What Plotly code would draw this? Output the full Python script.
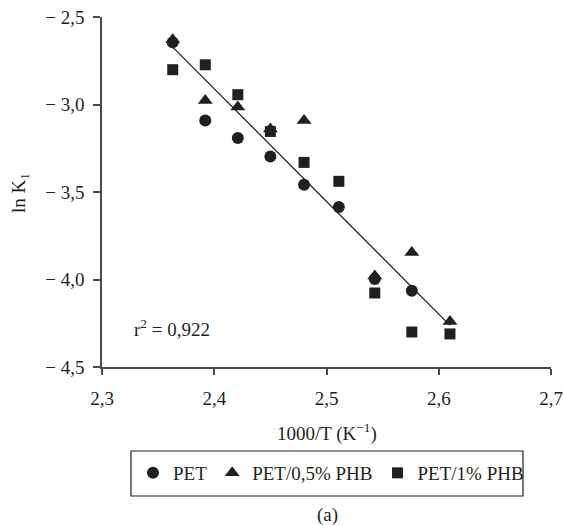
import plotly.graph_objects as go

# Data
pet_x = [2.363, 2.392, 2.421, 2.450, 2.480, 2.511, 2.543, 2.576]
pet_y = [-2.645, -3.091, -3.191, -3.297, -3.458, -3.586, -3.997, -4.064]

phb05_x = [2.363, 2.392, 2.421, 2.450, 2.480, 2.543, 2.576, 2.610]
phb05_y = [-2.63, -2.977, -3.014, -3.14, -3.091, -3.98, -3.846, -4.24]

phb1_x = [2.363, 2.392, 2.421, 2.450, 2.480, 2.511, 2.543, 2.576, 2.610]
phb1_y = [-2.801, -2.773, -2.944, -3.154, -3.331, -3.439, -4.077, -4.300, -4.311]

fit_x = [2.363, 2.610]
fit_y = [-2.672, -4.262]

x_ticks = [2.3, 2.4, 2.5, 2.6, 2.7]
x_ticktext = ["2,3", "2,4", "2,5", "2,6", "2,7"]
y_ticks = [-2.5, -3.0, -3.5, -4.0, -4.5]
y_ticktext = ["\u2212 2,5", "\u2212 3,0", "\u2212 3,5", "\u2212 4,0", "\u2212 4,5"]

FONT = "Liberation Serif"
FS = 19
INK = "#231f20"
AX = "#4a4a4a"

W, H = 564, 525
L, R, T, B = 102, 13, 17, 158
PW, PH = W - L - R, H - T - B


def px(xp):
    return (xp - L) / PW


def py(yp):
    return (H - B - yp) / PH


fig = go.Figure()
fig.add_trace(go.Scatter(x=fit_x, y=fit_y, mode="lines", line=dict(color=INK, width=1.3),
                         showlegend=False, hoverinfo="skip"))
fig.add_trace(go.Scatter(x=phb05_x, y=phb05_y, mode="markers", name="PET/0,5% PHB",
                         legendrank=2,
                         marker=dict(symbol="triangle-up", size=13, color=INK)))
fig.add_trace(go.Scatter(x=phb1_x, y=phb1_y, mode="markers", name="PET/1% PHB",
                         legendrank=3,
                         marker=dict(symbol="square", size=11, color=INK)))
fig.add_trace(go.Scatter(x=pet_x, y=pet_y, mode="markers", name="PET",
                         legendrank=1,
                         marker=dict(symbol="circle", size=12, color=INK)))

fig.update_layout(
    width=W, height=H,
    margin=dict(l=L, r=R, t=T, b=B, autoexpand=False),
    paper_bgcolor="white", plot_bgcolor="white",
    font=dict(family=FONT, size=FS, color=INK),
    showlegend=True,
    legend=dict(orientation="h", xref="container", yref="container",
                x=133 / W, xanchor="left", y=(H - 473) / H, yanchor="middle",
                font=dict(size=FS, family=FONT, color=INK),
                bgcolor="rgba(0,0,0,0)", borderwidth=0),
    xaxis=dict(range=[2.3, 2.7], tickvals=x_ticks, ticktext=x_ticktext, automargin=False,
               showgrid=False, zeroline=False, showline=True, linecolor=AX, linewidth=1.5,
               ticks="outside", ticklen=6, tickcolor=AX, tickwidth=1.5,
               ticklabelstandoff=7, tickfont=dict(size=FS)),
    yaxis=dict(range=[-4.5, -2.5], tickvals=y_ticks, ticktext=y_ticktext, automargin=False,
               showgrid=False, zeroline=False, showline=True, linecolor=AX, linewidth=1.5,
               ticks="outside", ticklen=7, tickcolor=AX, tickwidth=1.5,
               ticklabelstandoff=5, tickfont=dict(size=FS)),
)

fig.add_shape(type="rect", xref="paper", yref="paper",
              x0=px(131), x1=px(523), y0=py(496), y1=py(451),
              line=dict(color=INK, width=1.2), fillcolor="rgba(0,0,0,0)")

fig.add_annotation(text="1000/T (K<sup>−1</sup>)", xref="paper", yref="paper",
                   x=px(327), y=py(432), xanchor="center", yanchor="middle",
                   showarrow=False, font=dict(size=FS, family=FONT, color=INK))
fig.add_annotation(text="ln K<sub>1</sub>", xref="paper", yref="paper", textangle=-90,
                   x=px(20), y=py(193), xanchor="center", yanchor="middle",
                   showarrow=False, font=dict(size=FS, family=FONT, color=INK))
fig.add_annotation(text="r<sup>2</sup> = 0,922", xref="paper", yref="paper",
                   x=px(132), y=py(328), xanchor="left", yanchor="middle",
                   showarrow=False, font=dict(size=FS, family=FONT, color=INK))
fig.add_annotation(text="(a)", xref="paper", yref="paper",
                   x=px(327), y=py(515), xanchor="center", yanchor="middle",
                   showarrow=False, font=dict(size=FS, family=FONT, color=INK))

fig.write_html("out.html", config={"displayModeBar": False},
               post_script="document.body.style.margin='0';document.body.style.padding='0';")
